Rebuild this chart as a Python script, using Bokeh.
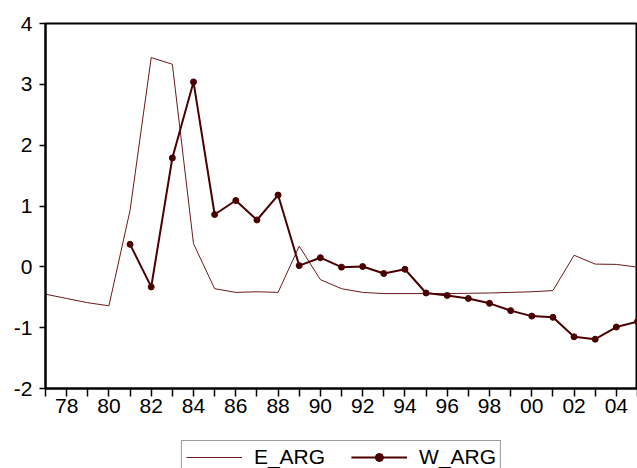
from bokeh.plotting import figure
from bokeh.models import FixedTicker, Range1d, Legend, LegendItem
from bokeh.layouts import column
from bokeh.embed import file_html
from bokeh.resources import INLINE

years = list(range(1977, 2006))
e_arg = [-0.45, -0.52, -0.59, -0.64, 0.93, 3.44, 3.33, 0.38, -0.36, -0.42,
         -0.41, -0.42, 0.34, -0.21, -0.36, -0.42, -0.44, -0.44, -0.44, -0.44,
         -0.435, -0.43, -0.42, -0.41, -0.39, 0.19, 0.045, 0.04, -0.005]
w_years = list(range(1981, 2006))
w_arg = [0.37, -0.33, 1.79, 3.04, 0.86, 1.09, 0.77, 1.18, 0.02, 0.15,
         -0.005, 0.005, -0.11, -0.04, -0.43, -0.47, -0.52, -0.60, -0.72, -0.81,
         -0.83, -1.15, -1.19, -0.99, -0.90]
y_ticks = [-2, -1, 0, 1, 2, 3, 4]

FONT = "Liberation Sans"
E_COLOR = "#6b1a1a"
W_COLOR = "#4a0000"

p = figure(width=637, height=420, output_backend="svg", toolbar_location=None,
           x_range=Range1d(1977, 2005), y_range=Range1d(-2, 4),
           min_border_left=45, min_border_right=0, min_border_top=23,
           min_border_bottom=32)
p.grid.visible = False
p.outline_line_color = "black"
p.outline_line_width = 2
p.background_fill_color = "white"
p.border_fill_color = "white"

r_e = p.line(years, e_arg, line_color=E_COLOR, line_width=1)
r_w = p.line(w_years, w_arg, line_color=W_COLOR, line_width=2)
r_wd = p.scatter(w_years, w_arg, size=6, fill_color=W_COLOR, line_color=W_COLOR)

p.xaxis.ticker = FixedTicker(ticks=years)
p.xaxis.major_label_overrides = {y: (f"{y % 100:02d}" if y % 2 == 0 else "") for y in years}
p.yaxis.ticker = FixedTicker(ticks=y_ticks)
p.yaxis.major_label_overrides = {t: str(t) for t in y_ticks}
for ax in (p.xaxis[0], p.yaxis[0]):
    ax.axis_line_width = 2
    ax.axis_line_color = "black"
    ax.major_tick_line_color = "black"
    ax.major_tick_line_width = 1.5
    ax.major_tick_in = 0
    ax.minor_tick_line_color = None
    ax.major_label_text_font = FONT
    ax.major_label_text_font_size = "21px"
    ax.major_label_text_color = "black"
p.xaxis.major_tick_out = 8
p.xaxis.major_label_standoff = 2
p.yaxis.major_tick_out = 6
p.yaxis.major_label_standoff = 7

# legend strip below the chart (legend box runs off the bottom, as in the original)
lg = figure(width=637, height=48, output_backend="svg", toolbar_location=None,
            x_axis_type=None, y_axis_type=None,
            x_range=Range1d(0, 1), y_range=Range1d(0, 1),
            min_border_left=45, min_border_right=0, min_border_top=0,
            min_border_bottom=0)
lg.grid.visible = False
lg.outline_line_color = None
lg.border_fill_color = "white"
le = lg.line([5, 6], [5, 6], line_color=E_COLOR, line_width=1)
lw = lg.line([5, 6], [5, 6], line_color=W_COLOR, line_width=2)
lwd = lg.scatter([5], [5], size=6, fill_color=W_COLOR, line_color=W_COLOR)

legend = Legend(items=[LegendItem(label="E_ARG", renderers=[le]),
                       LegendItem(label="W_ARG", renderers=[lw, lwd])],
                orientation="horizontal", location="top_center", margin=20,
                label_text_font=FONT, label_text_font_size="21px",
                label_text_color="black", glyph_width=56, glyph_height=20,
                label_standoff=12, spacing=26, padding=4,
                border_line_color="#333333", border_line_width=1.5,
                background_fill_color="white", background_fill_alpha=1.0)
lg.add_layout(legend, "center")

open("out.html", "w").write(file_html(column(p, lg, spacing=0), INLINE))
